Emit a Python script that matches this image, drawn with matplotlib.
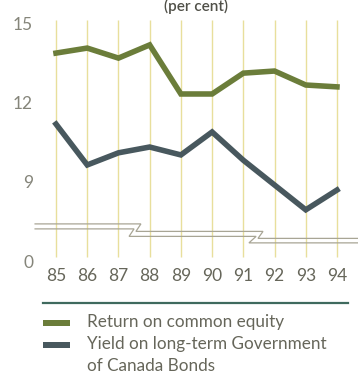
import matplotlib
matplotlib.use('Agg')
import matplotlib.pyplot as plt
from matplotlib.patches import Rectangle
from matplotlib.lines import Line2D

plt.rcParams['font.family'] = ['Lato', 'DejaVu Sans']

# data (per cent)
years = [85, 86, 87, 88, 89, 90, 91, 92, 93, 94]
year_labels = ['85', '86', '87', '88', '89', '90', '91', '92', '93', '94']
equity = [13.86, 14.05, 13.67, 14.17, 12.31, 12.31, 13.10, 13.18, 12.65, 12.58]
bonds = [11.17, 9.62, 10.08, 10.30, 10.00, 10.87, 9.80, 8.86, 7.92, 8.67]
ytick_vals = [5.98, 9, 12, 15]
ytick_labels = ['0', '9', '12', '15']
legend_labels = ['Return on common equity',
                 'Yield on long-term Government\nof Canada Bonds']

green = '#6b7d3a'
slate = '#48585e'
grid_col = '#e8df9c'
txt = '#66665a'

fig = plt.figure(figsize=(3.58, 3.82), dpi=100)
ax = fig.add_axes([40/358, 121/382, 318/358, 243/382])
ax.set_xlim(84.4875, 94.673)
ax.set_ylim(5.98, 15.19)

# pale vertical guides
ax.vlines(years, 6.14, 15.11, color=grid_col, lw=1.0, zorder=1)

# stepped axis break (two thin parallel lines)
brk_x_a = [84.33, 87.72, 87.56, 91.63, 91.47, 94.7]
brk_y_a = [7.386, 7.386, 7.102, 7.102, 6.837, 6.837]
brk_x_b = [84.33, 87.50, 87.34, 91.41, 91.18, 94.7]
brk_y_b = [7.197, 7.197, 6.913, 6.913, 6.667, 6.667]
for bx, by in [(brk_x_a, brk_y_a), (brk_x_b, brk_y_b)]:
    ax.plot(bx, by, color='#a8a595', lw=0.9, clip_on=False, zorder=2,
            solid_joinstyle='miter')

ax.plot(years, equity, color=green, lw=4.0, zorder=3, solid_joinstyle='miter')
ax.plot(years, bonds, color=slate, lw=4.0, zorder=3, solid_joinstyle='miter')

ax.set_xticks(years)
ax.set_xticklabels(year_labels)
ax.set_yticks(ytick_vals)
ax.set_yticklabels(ytick_labels)
ax.tick_params(axis='x', length=0, pad=5, labelsize=12.5, labelcolor=txt)
ax.tick_params(axis='y', length=0, pad=5, labelsize=12.5, labelcolor='#85857a')
for s in ax.spines.values():
    s.set_visible(False)
ax.patch.set_visible(False)

fig.text(196/358, 1 - 14/382, '(per cent)', ha='center', va='bottom',
         fontsize=11, color='#505048', fontweight='semibold')

# rule above legend
fig.add_artist(Line2D([43/358, 348/358], [1 - 303/382, 1 - 303/382],
                      color='#3f6a5e', lw=1.6))

# legend
for i, (lab, col) in enumerate(zip(legend_labels, [green, slate])):
    ytop = 320 + i * 22
    fig.add_artist(Rectangle((43/358, 1 - (ytop + 6)/382), 27/358, 6/382,
                             transform=fig.transFigure, color=col, lw=0))
    fig.text(87/358, 1 - (ytop - 6)/382, lab, ha='left', va='top',
             fontsize=12.3, color=txt, linespacing=1.45)

fig.savefig('out.png', dpi=100)
